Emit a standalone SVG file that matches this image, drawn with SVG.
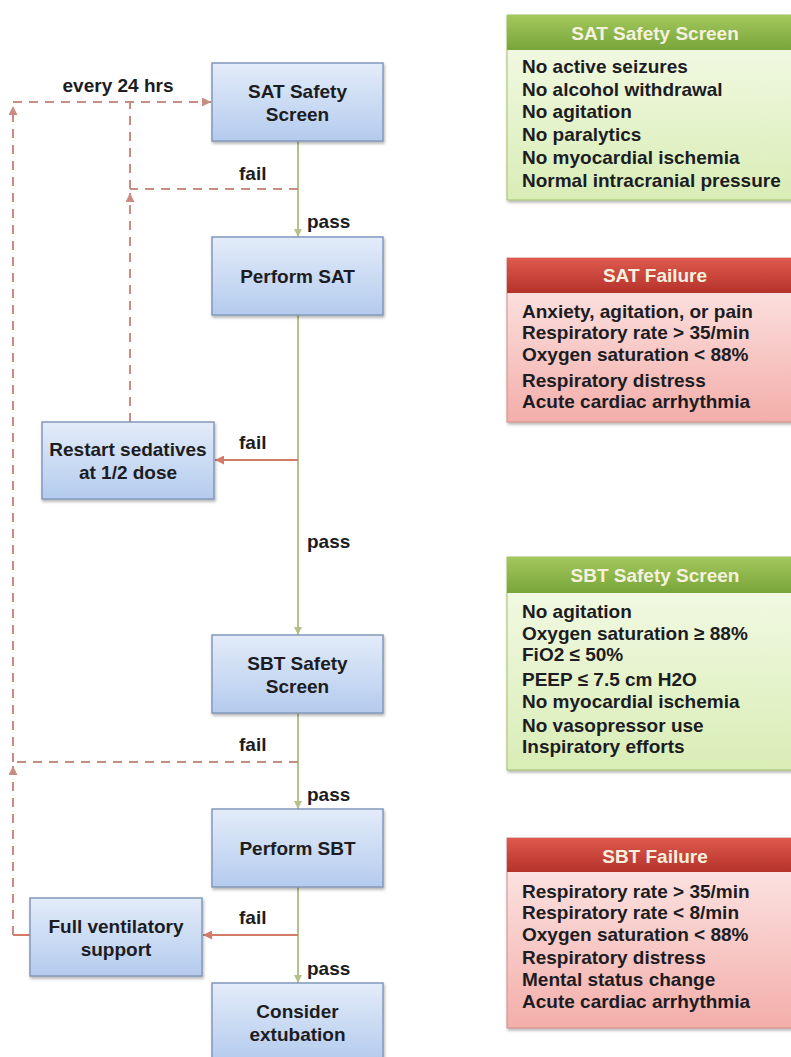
<svg xmlns="http://www.w3.org/2000/svg" width="791" height="1057" viewBox="0 0 791 1057">
<defs>
<style>
text{font-family:"Liberation Sans",Arial,Helvetica,sans-serif;font-weight:bold;font-size:19px;fill:#1c1c22}
.c{text-anchor:middle}
.hd{text-anchor:middle;fill:#f6f1df}
.box{fill:url(#gBlue);stroke:#8298ba;stroke-width:1.5}
.green{fill:none;stroke:#b3c28a;stroke-width:2}
.dash{fill:none;stroke:#c98b82;stroke-width:2;stroke-dasharray:9 7}
.red{fill:none;stroke:#d47a68;stroke-width:2}
</style>
<linearGradient id="gBlue" x1="0" y1="0" x2="0" y2="1"><stop offset="0" stop-color="#e3ecf9"/><stop offset="1" stop-color="#b4cbee"/></linearGradient>
<linearGradient id="gGH" x1="0" y1="0" x2="0" y2="1"><stop offset="0" stop-color="#a3c85c"/><stop offset="1" stop-color="#78a53a"/></linearGradient>
<linearGradient id="gGB" x1="0" y1="0" x2="0" y2="1"><stop offset="0" stop-color="#f6fbea"/><stop offset="1" stop-color="#d9edb6"/></linearGradient>
<linearGradient id="gRH" x1="0" y1="0" x2="0" y2="1"><stop offset="0" stop-color="#de5a4e"/><stop offset="1" stop-color="#b5322b"/></linearGradient>
<linearGradient id="gRB" x1="0" y1="0" x2="0" y2="1"><stop offset="0" stop-color="#fdeceb"/><stop offset="1" stop-color="#f3aeaa"/></linearGradient>
<filter id="sh" x="-10%" y="-10%" width="125%" height="130%"><feDropShadow dx="1" dy="2" stdDeviation="1.5" flood-color="#000" flood-opacity="0.3"/></filter>
<marker id="aG" markerWidth="8" markerHeight="8" refX="8" refY="4" orient="auto" markerUnits="userSpaceOnUse"><path d="M0,0 L8,4 L0,8 z" fill="#b3c28a"/></marker>
<marker id="aD" markerWidth="9" markerHeight="9" refX="9" refY="4.5" orient="auto" markerUnits="userSpaceOnUse"><path d="M0,0 L9,4.5 L0,9 z" fill="#c98b82"/></marker>
<marker id="aR" markerWidth="9" markerHeight="9" refX="9" refY="4.5" orient="auto" markerUnits="userSpaceOnUse"><path d="M0,0 L9,4.5 L0,9 z" fill="#d47a68"/></marker>
</defs>
<rect width="791" height="1057" fill="#ffffff"/>

<g id="connectors">
<path class="green" d="M298,141 V237" marker-end="url(#aG)"/>
<path class="green" d="M298,315 V635" marker-end="url(#aG)"/>
<path class="green" d="M298,713 V809" marker-end="url(#aG)"/>
<path class="green" d="M298,887 V983" marker-end="url(#aG)"/>
<path class="red" d="M298,460 H215" marker-end="url(#aR)"/>
<path class="red" d="M298,935 H203" marker-end="url(#aR)"/>
<path class="dash" d="M298,189 H130"/>
<path class="dash" d="M130,422 V193" marker-end="url(#aD)"/>
<path class="dash" d="M130,189 V102"/>
<path class="dash" d="M298,762 H13"/>
<path class="red" d="M30,935 H13"/>
<path class="dash" d="M13,935 V766" marker-end="url(#aD)"/>
<path class="dash" d="M13,762 V106" marker-end="url(#aD)"/>
<path class="dash" d="M13,102 H211" marker-end="url(#aD)"/>
<text x="118" y="92" class="c">every 24 hrs</text>
<text x="239" y="180">fail</text>
<text x="307" y="228">pass</text>
<text x="239" y="449">fail</text>
<text x="307" y="548">pass</text>
<text x="239" y="751">fail</text>
<text x="307" y="801">pass</text>
<text x="239" y="924">fail</text>
<text x="307" y="975">pass</text>
</g>

<g id="n-sat-screen">
<rect class="box" x="212" y="63" width="171" height="78" filter="url(#sh)"/>
<text x="297.5" y="98" class="c">SAT Safety</text>
<text x="297.5" y="121" class="c">Screen</text>
</g>
<g id="n-perform-sat">
<rect class="box" x="212" y="237" width="171" height="78" filter="url(#sh)"/>
<text x="297.5" y="283" class="c">Perform SAT</text>
</g>
<g id="n-restart">
<rect class="box" x="42" y="422" width="172" height="77" filter="url(#sh)"/>
<text x="128" y="456" class="c">Restart sedatives</text>
<text x="128" y="479" class="c">at 1/2 dose</text>
</g>
<g id="n-sbt-screen">
<rect class="box" x="212" y="635" width="171" height="78" filter="url(#sh)"/>
<text x="297.5" y="670" class="c">SBT Safety</text>
<text x="297.5" y="693" class="c">Screen</text>
</g>
<g id="n-perform-sbt">
<rect class="box" x="212" y="809" width="171" height="78" filter="url(#sh)"/>
<text x="297.5" y="855" class="c">Perform SBT</text>
</g>
<g id="n-full-vent">
<rect class="box" x="30" y="898" width="172" height="78" filter="url(#sh)"/>
<text x="116" y="933" class="c">Full ventilatory</text>
<text x="116" y="956" class="c">support</text>
</g>
<g id="n-extubation">
<rect class="box" x="212" y="983" width="171" height="78" filter="url(#sh)"/>
<text x="297.5" y="1018" class="c">Consider</text>
<text x="297.5" y="1041" class="c">extubation</text>
</g>

<g id="p-sat-screen">
<rect x="507" y="15" width="300" height="185" fill="url(#gGB)" stroke="#9fbf6a" stroke-width="1" filter="url(#sh)"/>
<rect x="507" y="15" width="300" height="35" fill="url(#gGH)"/>
<text x="655" y="40" class="hd">SAT Safety Screen</text>
<text x="522" y="73">No active seizures</text>
<text x="522" y="96">No alcohol withdrawal</text>
<text x="522" y="118">No agitation</text>
<text x="522" y="141">No paralytics</text>
<text x="522" y="164">No myocardial ischemia</text>
<text x="522" y="187">Normal intracranial pressure</text>
</g>
<g id="p-sat-failure">
<rect x="507" y="258" width="300" height="164" fill="url(#gRB)" stroke="#d08a86" stroke-width="1" filter="url(#sh)"/>
<rect x="507" y="258" width="300" height="35" fill="url(#gRH)"/>
<text x="655" y="282" class="hd">SAT Failure</text>
<text x="522" y="318">Anxiety, agitation, or pain</text>
<text x="522" y="339">Respiratory rate &gt; 35/min</text>
<text x="522" y="361">Oxygen saturation &lt; 88%</text>
<text x="522" y="387">Respiratory distress</text>
<text x="522" y="408">Acute cardiac arrhythmia</text>
</g>
<g id="p-sbt-screen">
<rect x="507" y="557" width="300" height="213" fill="url(#gGB)" stroke="#9fbf6a" stroke-width="1" filter="url(#sh)"/>
<rect x="507" y="557" width="300" height="36" fill="url(#gGH)"/>
<text x="655" y="582" class="hd">SBT Safety Screen</text>
<text x="522" y="618">No agitation</text>
<text x="522" y="640">Oxygen saturation ≥ 88%</text>
<text x="522" y="661">FiO2 ≤ 50%</text>
<text x="522" y="686">PEEP ≤ 7.5 cm H2O</text>
<text x="522" y="708">No myocardial ischemia</text>
<text x="522" y="732">No vasopressor use</text>
<text x="522" y="753">Inspiratory efforts</text>
</g>
<g id="p-sbt-failure">
<rect x="507" y="838" width="300" height="190" fill="url(#gRB)" stroke="#d08a86" stroke-width="1" filter="url(#sh)"/>
<rect x="507" y="838" width="300" height="34" fill="url(#gRH)"/>
<text x="655" y="863" class="hd">SBT Failure</text>
<text x="522" y="898">Respiratory rate &gt; 35/min</text>
<text x="522" y="919">Respiratory rate &lt; 8/min</text>
<text x="522" y="941">Oxygen saturation &lt; 88%</text>
<text x="522" y="964">Respiratory distress</text>
<text x="522" y="986">Mental status change</text>
<text x="522" y="1008">Acute cardiac arrhythmia</text>
</g>
</svg>
